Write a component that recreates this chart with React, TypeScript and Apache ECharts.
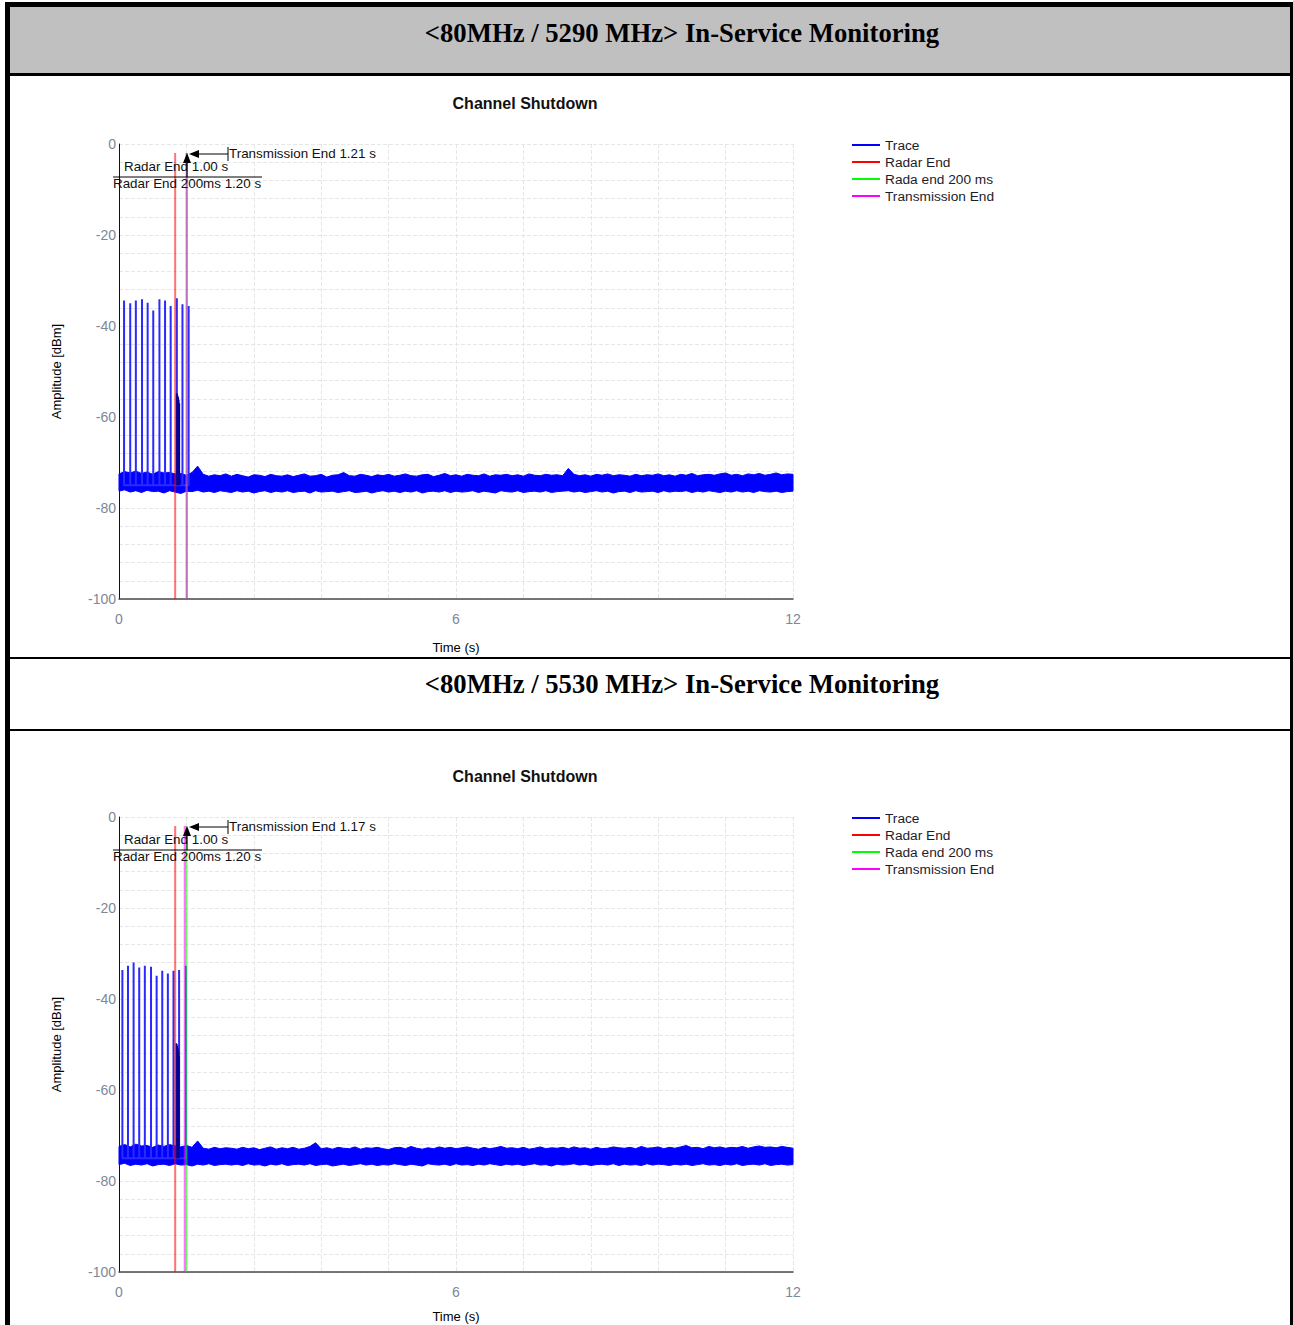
import React, { useEffect, useRef } from "react";
import * as echarts from "echarts";

// ---------- data ----------
const headerTitles = ["<80MHz / 5290 MHz> In-Service Monitoring", "<80MHz / 5530 MHz> In-Service Monitoring"];
const chartTitle = "Channel Shutdown";
const legendNames = ["Trace", "Radar End", "Rada end 200 ms", "Transmission End"];
const xTickLabels = [0, 6, 12];
const yTickLabels = [0, -20, -40, -60, -80, -100];

const noiseStep = 0.1; // seconds between envelope samples
const pulseFloor = -75;

// chart 1 (5290 MHz)
const pulseTimes1 = [0.09, 0.2, 0.3, 0.41, 0.51, 0.61, 0.72, 0.82, 0.92, 1.03, 1.13, 1.24];
const pulsePeaks1 = [-34.4, -35.0, -34.4, -34.1, -34.9, -36.6, -34.1, -34.4, -35.6, -33.9, -35.2, -35.6];
const burstTimes1 = [1.025, 1.035, 1.045, 1.055, 1.065, 1.075];
const burstPeaks1 = [-55.0, -54.8, -55.3, -55.6, -56.2, -57.0];
const radarEnd1 = 1.0;
const radarEnd200_1 = 1.2;
const transmissionEnd1 = 1.21;
const noiseTop1 = [
  -72.5, -72.0, -72.3, -71.9, -72.4, -72.1, -72.6, -72.0, -72.3, -72.2,
  -72.5, -72.4, -72.8, -72.2, -70.8, -72.6, -73.0, -72.7, -72.9, -72.5,
  -73.0, -72.6, -72.9, -73.2, -72.7, -72.8, -73.1, -72.6, -72.9, -73.0,
  -72.7, -73.1, -72.8, -72.5, -73.0, -72.9, -72.6, -73.2, -72.8, -72.7,
  -72.2, -72.9, -73.0, -72.6, -72.8, -73.1, -72.7, -72.9, -72.6, -73.0,
  -72.8, -72.5, -72.9, -73.0, -72.7, -72.6, -73.1, -72.8, -72.4, -72.9,
  -72.7, -73.0, -72.6, -72.8, -72.9, -72.5, -73.0, -72.7, -72.8, -72.6,
  -72.9, -72.7, -73.0, -72.5, -72.8, -72.9, -72.6, -72.8, -72.7, -72.9,
  -71.3, -72.6, -72.9, -72.7, -73.0, -72.6, -72.8, -72.5, -72.9, -72.7,
  -72.8, -73.0, -72.6, -72.9, -72.7, -72.8, -72.5, -72.9, -72.7, -73.0,
  -72.6, -72.8, -72.4, -72.9, -72.7, -72.6, -72.8, -72.5, -72.3, -72.8,
  -72.6, -72.9, -72.5, -72.7, -72.4, -72.8, -72.6, -72.3, -72.7, -72.5,
  -72.6,
];
const noiseBottom1 = [
  -76.3, -76.0, -76.5, -76.2, -76.6, -76.1, -76.4, -76.3, -76.7, -76.2,
  -76.5, -76.8, -76.3, -76.4, -76.1, -76.5, -76.3, -76.6, -76.2, -76.4,
  -76.6, -76.2, -76.5, -76.3, -76.7, -76.4, -76.2, -76.6, -76.3, -76.5,
  -76.2, -76.6, -76.4, -76.3, -76.7, -76.2, -76.5, -76.4, -76.3, -76.6,
  -76.4, -76.2, -76.6, -76.5, -76.3, -76.7, -76.4, -76.2, -76.5, -76.3,
  -76.6, -76.3, -76.5, -76.2, -76.7, -76.4, -76.3, -76.5, -76.2, -76.6,
  -76.3, -76.5, -76.4, -76.2, -76.6, -76.3, -76.5, -76.7, -76.2, -76.4,
  -76.5, -76.2, -76.6, -76.4, -76.3, -76.5, -76.2, -76.6, -76.4, -76.3,
  -76.2, -76.5, -76.3, -76.6, -76.4, -76.2, -76.5, -76.3, -76.7, -76.4,
  -76.3, -76.6, -76.2, -76.5, -76.4, -76.3, -76.6, -76.2, -76.5, -76.3,
  -76.4, -76.2, -76.6, -76.3, -76.5, -76.2, -76.4, -76.6, -76.3, -76.5,
  -76.2, -76.5, -76.3, -76.6, -76.2, -76.4, -76.5, -76.3, -76.6, -76.4,
  -76.3,
];

// chart 2 (5530 MHz)
const pulseTimes2 = [0.06, 0.16, 0.26, 0.36, 0.46, 0.57, 0.67, 0.77, 0.87, 0.97, 1.07, 1.19];
const pulsePeaks2 = [-33.6, -32.7, -32.0, -33.1, -32.7, -32.9, -34.9, -33.8, -34.4, -33.8, -33.6, -32.7];
const burstTimes2 = [1.02, 1.03, 1.04, 1.05, 1.06, 1.07];
const burstPeaks2 = [-49.7, -49.9, -50.3, -50.8, -51.5, -52.5];
const radarEnd2 = 1.0;
const radarEnd200_2 = 1.2;
const transmissionEnd2 = 1.17;
const noiseTop2 = [
  -72.4, -72.0, -72.5, -71.9, -72.3, -72.2, -72.6, -72.1, -72.4, -72.0,
  -72.3, -72.5, -72.2, -72.6, -71.2, -72.8, -73.0, -72.6, -72.9, -72.7,
  -72.8, -73.0, -72.6, -72.9, -72.7, -73.1, -72.8, -72.5, -73.0, -72.7,
  -72.9, -72.6, -73.0, -72.8, -72.4, -71.6, -72.9, -72.7, -73.0, -72.6,
  -72.8, -72.9, -72.5, -73.0, -72.7, -72.8, -72.6, -72.9, -73.1, -72.7,
  -72.6, -72.9, -72.4, -72.8, -73.0, -72.7, -72.9, -72.5, -72.8, -72.6,
  -72.9, -72.7, -72.5, -72.8, -73.0, -72.6, -72.9, -72.7, -72.4, -72.8,
  -72.7, -72.9, -72.6, -73.0, -72.8, -72.5, -72.9, -72.7, -72.8, -72.6,
  -72.9, -72.5, -72.8, -72.7, -73.0, -72.6, -72.9, -72.8, -72.5, -72.7,
  -72.8, -72.6, -72.9, -72.4, -72.8, -72.7, -72.5, -72.9, -72.6, -72.8,
  -72.5, -72.2, -72.7, -72.6, -72.9, -72.4, -72.7, -72.5, -72.8, -72.6,
  -72.7, -72.4, -72.8, -72.5, -72.3, -72.6, -72.5, -72.7, -72.4, -72.6,
  -72.8,
];
const noiseBottom2 = [
  -76.4, -76.1, -76.6, -76.3, -76.5, -76.2, -76.7, -76.4, -76.3, -76.6,
  -76.2, -76.5, -76.4, -76.7, -76.3, -76.5, -76.2, -76.6, -76.4, -76.3,
  -76.5, -76.3, -76.6, -76.2, -76.5, -76.4, -76.7, -76.3, -76.5, -76.2,
  -76.6, -76.4, -76.3, -76.5, -76.2, -76.6, -76.4, -76.3, -76.7, -76.5,
  -76.3, -76.6, -76.4, -76.2, -76.5, -76.3, -76.6, -76.4, -76.5, -76.2,
  -76.4, -76.6, -76.3, -76.5, -76.7, -76.2, -76.4, -76.5, -76.3, -76.6,
  -76.2, -76.5, -76.4, -76.6, -76.3, -76.5, -76.2, -76.4, -76.6, -76.3,
  -76.5, -76.3, -76.6, -76.4, -76.2, -76.5, -76.4, -76.7, -76.3, -76.5,
  -76.4, -76.2, -76.5, -76.3, -76.6, -76.4, -76.3, -76.5, -76.2, -76.6,
  -76.3, -76.5, -76.4, -76.6, -76.2, -76.5, -76.3, -76.4, -76.6, -76.3,
  -76.5, -76.3, -76.6, -76.4, -76.2, -76.5, -76.4, -76.6, -76.3, -76.5,
  -76.2, -76.6, -76.4, -76.3, -76.5, -76.2, -76.6, -76.4, -76.3, -76.5,
  -76.4,
];

// ---------- styling ----------
const BLUE = "#0000ff";
const LABEL_COLOR = "#7d8799";
const FONT = "'Liberation Sans', Arial, sans-serif";
const GRID = { left: 109, width: 674, height: 455 };

type ChartCfg = {
  gridTop: number;
  titleY: number;
  xNameGap: number;
  pulseTimes: number[];
  pulsePeaks: number[];
  burstTimes: number[];
  burstPeaks: number[];
  noiseTop: number[];
  noiseBottom: number[];
  radarEnd: number;
  radarEnd200: number;
  transmissionEnd: number;
};

function markerSeries(name: string, t: number, lineColor: string) {
  return {
    name,
    type: "line",
    data: [
      [t, -2],
      [t, -100],
    ],
    symbol: "none",
    silent: true,
    z: 6,
    itemStyle: { color: lineColor },
    lineStyle: { color: lineColor, width: 2, opacity: 0.55 },
  };
}

function buildOption(cfg: ChartCfg) {
  const g = cfg.gridTop;
  const times = cfg.noiseTop.map((_, i) => +(i * noiseStep).toFixed(2));
  const bandData = times.map((t, i) => [t, cfg.noiseTop[i], cfg.noiseBottom[i]]);
  const pulseData: number[][] = [];
  cfg.pulseTimes.forEach((t, i) => {
    pulseData.push([t, pulseFloor], [t, cfg.pulsePeaks[i]], [t, pulseFloor]);
  });
  const burstData: number[][] = [];
  cfg.burstTimes.forEach((t, i) => {
    burstData.push([t, pulseFloor], [t, cfg.burstPeaks[i]], [t, pulseFloor]);
  });

  const txt = (text: string, x: number, y: number) => ({
    type: "text",
    x,
    y,
    style: { text, fill: "#111", font: `13.4px ${FONT}`, verticalAlign: "middle", align: "left" },
    z: 20,
  });
  const ln = (x1: number, y1: number, x2: number, y2: number) => ({
    type: "line",
    shape: { x1, y1, x2, y2 },
    style: { stroke: "#000", lineWidth: 1 },
    z: 20,
  });

  return {
    animation: false,
    backgroundColor: "#ffffff",
    grid: { left: GRID.left, top: g, width: GRID.width, height: GRID.height, outerBoundsMode: "none", containLabel: false },
    legend: {
      orient: "vertical",
      left: 837,
      top: g - 11,
      icon: "rect",
      itemWidth: 28,
      itemHeight: 2,
      itemGap: 3,
      textStyle: { fontSize: 13.7, color: "#1c1c2c", fontFamily: FONT, lineHeight: 14 },
      data: [
        { name: legendNames[0], itemStyle: { color: "#0000ff" } },
        { name: legendNames[1], itemStyle: { color: "#ff0000" } },
        { name: legendNames[2], itemStyle: { color: "#00ff00" } },
        { name: legendNames[3], itemStyle: { color: "#ff00ff" } },
      ],
    },
    xAxis: {
      type: "value",
      min: 0,
      max: 12,
      interval: 1.2,
      name: "Time (s)",
      nameLocation: "middle",
      nameGap: cfg.xNameGap,
      nameTextStyle: { color: "#000", fontSize: 13, fontFamily: FONT },
      axisLine: { show: true, onZero: false, lineStyle: { color: "#4a4a4a", width: 1.5 } },
      axisTick: { show: false },
      axisLabel: {
        color: LABEL_COLOR,
        fontSize: 14,
        margin: 13,
        fontFamily: FONT,
        formatter: (v: number) => {
          const hit = xTickLabels.find((l) => Math.abs(l - v) < 1e-6);
          return hit === undefined ? "" : String(hit);
        },
      },
      splitLine: { show: true, lineStyle: { color: "#e6e6e6", type: "dashed", width: 1 } },
    },
    yAxis: {
      type: "value",
      min: -100,
      max: 0,
      interval: 4,
      name: "Amplitude [dBm]",
      nameLocation: "middle",
      nameGap: 56,
      nameTextStyle: { color: "#000", fontSize: 13, fontFamily: FONT },
      axisLine: { show: true, onZero: false, lineStyle: { color: "#111", width: 1 } },
      axisTick: { show: false },
      axisLabel: {
        color: LABEL_COLOR,
        fontSize: 14,
        margin: 3,
        fontFamily: FONT,
        formatter: (v: number) => {
          const hit = yTickLabels.find((l) => Math.abs(l - v) < 1e-6);
          return hit === undefined ? "" : String(hit);
        },
      },
      splitLine: { show: true, lineStyle: { color: "#e6e6e6", type: "dashed", width: 1 } },
    },
    series: [
      {
        name: "Trace",
        type: "custom",
        data: bandData,
        encode: { x: 0, y: [1, 2] },
        silent: true,
        z: 3,
        itemStyle: { color: BLUE },
        renderItem: (params: any, api: any) => {
          if (params.dataIndex !== 0) return null;
          const pts: number[][] = [];
          for (let i = 0; i < bandData.length; i++) pts.push(api.coord([bandData[i][0], bandData[i][1]]));
          for (let i = bandData.length - 1; i >= 0; i--) pts.push(api.coord([bandData[i][0], bandData[i][2]]));
          return {
            type: "polygon",
            shape: { points: pts },
            style: { fill: BLUE, stroke: BLUE, lineWidth: 1 },
          };
        },
      },
      {
        name: "Trace",
        type: "line",
        data: pulseData,
        symbol: "none",
        silent: true,
        itemStyle: { color: BLUE },
        lineStyle: { color: "#2a2aff", width: 2 },
        z: 4,
      },
      {
        name: "Trace",
        type: "line",
        data: burstData,
        symbol: "none",
        silent: true,
        itemStyle: { color: BLUE },
        lineStyle: { color: "#00009a", width: 1.5 },
        z: 4,
      },
      markerSeries("Radar End", cfg.radarEnd, "#ff0000"),
      markerSeries("Rada end 200 ms", cfg.radarEnd200, "#00ff00"),
      markerSeries("Transmission End", cfg.transmissionEnd, "#ff00ff"),
    ],
    graphic: [
      {
        type: "text",
        x: 515,
        y: cfg.titleY,
        style: {
          text: chartTitle,
          fill: "#111",
          font: `bold 16px ${FONT}`,
          align: "center",
          verticalAlign: "middle",
        },
      },
      // annotations
      ln(218, g + 3, 218, g + 17),
      ln(218, g + 10, 188, g + 10),
      { type: "polygon", shape: { points: [[179, g + 10], [189, g + 6], [189, g + 14]] }, style: { fill: "#000" }, z: 20 },
      ln(177, g + 18, 177, g + 33),
      { type: "polygon", shape: { points: [[177, g + 9], [173, g + 19], [181, g + 19]] }, style: { fill: "#000" }, z: 20 },
      ln(103, g + 33, 252, g + 33),
      txt(`Transmission End ${cfg.transmissionEnd.toFixed(2)} s`, 219, g + 9),
      txt(`Radar End ${cfg.radarEnd.toFixed(2)} s`, 114, g + 22),
      txt(`Radar End 200ms ${cfg.radarEnd200.toFixed(2)} s`, 103, g + 39),
    ],
  };
}

const cfg1: ChartCfg = {
  gridTop: 68,
  titleY: 27,
  xNameGap: 42,
  pulseTimes: pulseTimes1,
  pulsePeaks: pulsePeaks1,
  burstTimes: burstTimes1,
  burstPeaks: burstPeaks1,
  noiseTop: noiseTop1,
  noiseBottom: noiseBottom1,
  radarEnd: radarEnd1,
  radarEnd200: radarEnd200_1,
  transmissionEnd: transmissionEnd1,
};
const cfg2: ChartCfg = {
  gridTop: 86,
  titleY: 45,
  xNameGap: 38,
  pulseTimes: pulseTimes2,
  pulsePeaks: pulsePeaks2,
  burstTimes: burstTimes2,
  burstPeaks: burstPeaks2,
  noiseTop: noiseTop2,
  noiseBottom: noiseBottom2,
  radarEnd: radarEnd2,
  radarEnd200: radarEnd200_2,
  transmissionEnd: transmissionEnd2,
};

function Chart({ cfg, top, height }: { cfg: ChartCfg; top: number; height: number }) {
  const ref = useRef<HTMLDivElement>(null);
  useEffect(() => {
    if (!ref.current) return;
    const chart = echarts.init(ref.current, undefined, { renderer: "svg" });
    chart.setOption(buildOption(cfg) as any);
    return () => chart.dispose();
  }, [cfg]);
  return <div ref={ref} style={{ position: "absolute", left: 10, top, width: 1280, height }} />;
}

const black = (left: number, top: number, width: number, height: number) => (
  <div style={{ position: "absolute", left, top, width, height, background: "#000" }} />
);

const headerStyle = (top: number): React.CSSProperties => ({
  position: "absolute",
  left: 382,
  width: 600,
  top,
  height: 32,
  lineHeight: "32px",
  textAlign: "center",
  fontFamily: "'Liberation Serif', 'Times New Roman', serif",
  fontWeight: "bold",
  fontSize: 26.7,
  color: "#000",
  whiteSpace: "nowrap",
});

export default function App() {
  useEffect(() => {
    document.body.style.margin = "0";
  }, []);
  return (
    <div style={{ position: "relative", width: 1293, height: 1325, overflow: "hidden", background: "#fff" }}>
      <div style={{ position: "absolute", left: 10, top: 7, width: 1280, height: 66, background: "#c0c0c0" }} />
      <div style={headerStyle(17)}>{headerTitles[0]}</div>
      <div style={headerStyle(668)}>{headerTitles[1]}</div>
      <Chart cfg={cfg1} top={76} height={581} />
      <Chart cfg={cfg2} top={731} height={594} />
      {black(5, 2, 1288, 5)}
      {black(5, 2, 5, 1323)}
      {black(1290, 2, 3, 1323)}
      {black(10, 73, 1280, 3)}
      {black(10, 657, 1280, 2)}
      {black(10, 729, 1280, 2)}
    </div>
  );
}
